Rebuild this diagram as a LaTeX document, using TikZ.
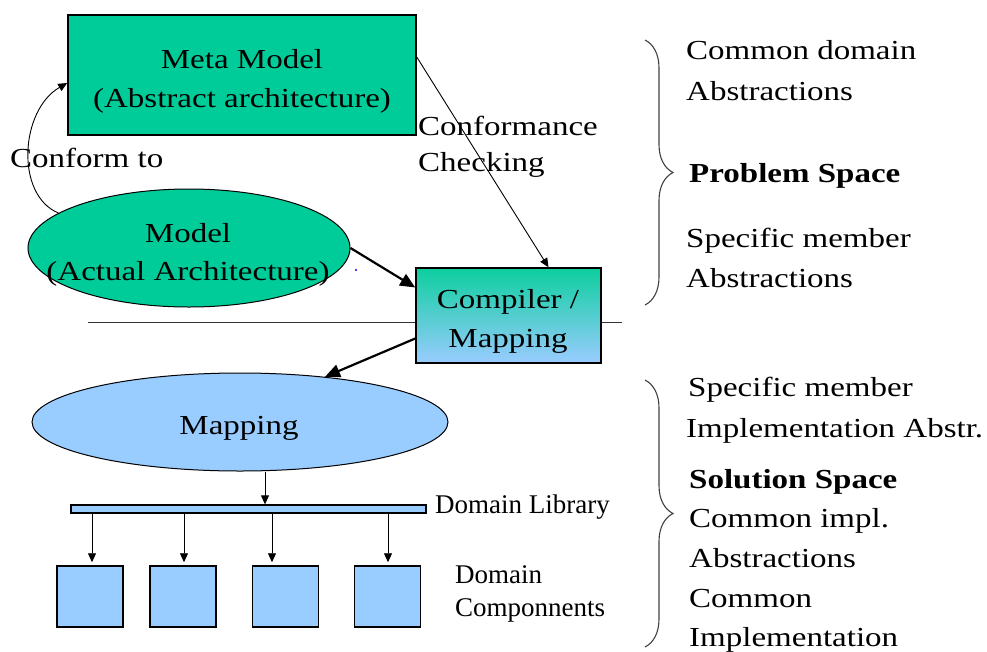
\documentclass[tikz,border=0pt]{standalone}
\usepackage{fontspec}
\setmainfont[FakeStretch=1.2]{Liberation Serif}
\newfontfamily\plainserif{Liberation Serif}
\usetikzlibrary{arrows.meta,shapes.geometric,decorations.pathreplacing}
\definecolor{tealgreen}{HTML}{00CC99}
\definecolor{skyblue}{HTML}{99CCFF}
\tikzset{
  txt/.style={font=\fontsize{27.5}{40}\selectfont, inner sep=0pt, anchor=base},
  txtl/.style={txt, anchor=base west},
  txtb/.style={font=\fontsize{27.5}{40}\selectfont\bfseries, inner sep=0pt, anchor=base west},
  smalltxt/.style={font=\plainserif\fontsize{27}{33}\selectfont, inner sep=0pt, anchor=base west},
  thinarrow/.style={draw=black, line width=0.9pt, -{Triangle[length=9pt,width=8pt]}},
  thickarrow/.style={draw=black, line width=2.2pt, -{Triangle[length=15pt,width=13pt]}},
  greenbox/.style={rectangle, draw=black, line width=1.5pt, fill=tealgreen, inner sep=0pt},
  greenell/.style={ellipse, draw=black, line width=1pt, fill=tealgreen, inner sep=0pt},
  blueell/.style={ellipse, draw=black, line width=1pt, fill=skyblue, inner sep=0pt},
  bluebox/.style={rectangle, draw=black, line width=1.5pt, fill=skyblue, inner sep=0pt},
  gradbox/.style={rectangle, draw=black, line width=1.5pt, inner sep=0pt,
    top color=tealgreen!95!white, bottom color=skyblue},
  bracestyle/.style={draw=black!75, line width=1.1pt, decorate, decoration={brace, amplitude=28pt}}
}
\begin{document}
\begin{tikzpicture}[x=1pt,y=-1pt]
\useasboundingbox (0,0) rectangle (987,651);

% separator line (behind compiler box)
\coordinate (sepL) at (88,322);
\coordinate (sepR) at (622,322);
\draw[line width=1pt, black!80] (sepL) -- (sepR);

% shapes
\node[greenbox, minimum width=348pt, minimum height=120pt] (meta) at (242,75) {};
\node[greenell, minimum width=322pt, minimum height=118pt] (model) at (189,248) {};
\node[gradbox, minimum width=185pt, minimum height=95pt] (comp) at (508.5,315.5) {};
\node[blueell, minimum width=416pt, minimum height=98pt] (mapping) at (240,422) {};
\node[bluebox, line width=1.3pt, minimum width=355pt, minimum height=8pt] (bar) at (248.5,509) {};
\node[bluebox, minimum width=66pt, minimum height=61pt] (b1) at (90,596.5) {};
\node[bluebox, minimum width=66pt, minimum height=61pt] (b2) at (183,596.5) {};
\node[bluebox, minimum width=66pt, minimum height=61pt] (b3) at (285.5,596.5) {};
\node[bluebox, minimum width=66pt, minimum height=61pt] (b4) at (387.5,596.5) {};

% texts in shapes
\node[txt] (metaT1) at (242,68) {Meta Model};
\node[txt] (metaT2) at (242,107) {(Abstract architecture)};
\node[txt] (modelT1) at (188,242) {Model};
\node[txt] (modelT2) at (188,280) {(Actual Architecture)};
\node[txt] (compT1) at (508,308) {Compiler /};
\node[txt] (compT2) at (508,347) {Mapping};
\node[txt] (mapT) at (239,434) {Mapping};

% labels
\node[txtl] (conformT) at (10,167) {Conform to};
\node[txtl] (checkT1) at (418,135) {Conformance};
\node[txtl] (checkT2) at (418,171) {Checking};
\node[smalltxt] (libT) at (435,513) {Domain Library};
\node[smalltxt] (compoT1) at (455,583) {Domain};
\node[smalltxt] (compoT2) at (455,616) {Componnents};

% right column
\node[txtl] (r1) at (686,59) {Common domain};
\node[txtl] (r2) at (686,100) {Abstractions};
\node[txtb] (r3) at (689,182) {Problem Space};
\node[txtl] (r4) at (686,247) {Specific member};
\node[txtl] (r5) at (686,287) {Abstractions};
\node[txtl] (s1) at (688,396) {Specific member};
\node[txtl] (s2) at (686,437) {Implementation Abstr.};
\node[txtb] (s3) at (689,488) {Solution Space};
\node[txtl] (s4) at (689,527) {Common impl.};
\node[txtl] (s5) at (689,567) {Abstractions};
\node[txtl] (s6) at (689,607) {Common};
\node[txtl] (s7) at (689,646) {Implementation};

% braces
\coordinate (br1a) at (645,40);
\coordinate (br1b) at (645,305);
\coordinate (br2a) at (645,380);
\coordinate (br2b) at (645,647);
\draw[bracestyle] (br1a) -- (br1b);
\draw[bracestyle] (br2a) -- (br2b);

% connectors
\draw[thinarrow] (model.165) .. controls (15,195) and (20,110) .. ([yshift=-8pt]meta.west);
\draw[thinarrow] ([yshift=18pt]meta.east) -- ([xshift=40pt]comp.north);
\draw[thickarrow] (model.east) -- ([yshift=28pt]comp.west);
\draw[thickarrow] ([yshift=-23pt]comp.west) -- (mapping.28);
\coordinate (mx) at (265,0);
\draw[thinarrow] (mapping.south -| mx) -- (bar.north -| mx);
\coordinate (a1) at ([xshift=2pt]b1.north);
\coordinate (a2) at ([xshift=1pt]b2.north);
\coordinate (a3) at ([xshift=-13.5pt]b3.north);
\coordinate (a4) at ([xshift=0.5pt]b4.north);
\foreach \a in {a1,a2,a3,a4}{
  \draw[thinarrow, shorten >=3pt] (bar.south -| \a) -- (\a);
}

% stray dot
\fill[blue] (356,270) circle (1.2pt);
\end{tikzpicture}
\end{document}
